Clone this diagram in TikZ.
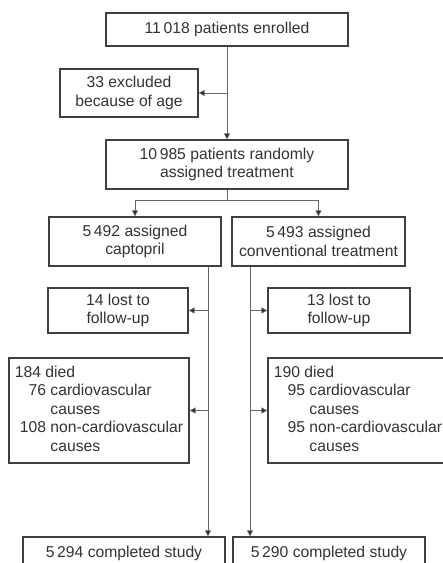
\documentclass[tikz,border=0pt]{standalone}
\usepackage{fontspec}
\setmainfont{Liberation Sans}
\usepackage{xcolor}
\usepackage{tikz}
\usetikzlibrary{positioning,arrows.meta,calc}

\begin{document}
\begin{tikzpicture}[x=1pt, y=-1pt,
    stagebox/.style={rectangle, draw=black!75, line width=1.2pt, fill=white,
                     align=center, inner sep=0pt, text=black!80,
                     font=\fontsize{15.7}{18.5}\selectfont},
    flow/.style={-{Triangle[length=6pt, width=6pt, fill=black!85]}, line width=0.8pt, draw=black!60},
    trunk/.style={line width=0.8pt, draw=black!60}
]
\useasboundingbox (0,0) rectangle (443,563);
\clip (0,0) rectangle (443,563);

% --- enrolment and randomisation ---
\node[stagebox, minimum width=242pt, minimum height=33pt] (enrol) at (227,29.5)
    {11\,018 patients enrolled};
\node[stagebox, minimum width=138pt, minimum height=48pt] (excl) at (129,93)
    {33 excluded\\because of age};
\node[stagebox, minimum width=242pt, minimum height=49pt] (rand) at (227,164.5)
    {10\,985 patients randomly\\assigned treatment};

% --- the two arms ---
\node[stagebox, minimum width=172pt, minimum height=49pt] (capt) at (135,241.5)
    {5\,492 assigned\\captopril};
\node[stagebox, minimum width=173pt, minimum height=49pt] (conv) at (318.5,241.5)
    {5\,493 assigned\\conventional treatment};

% --- losses per arm ---
\node[stagebox, minimum width=140pt, minimum height=45pt] (lostL) at (118,310.5)
    {14 lost to\\follow-up};
\node[stagebox, minimum width=142pt, minimum height=45pt] (lostR) at (339,310.5)
    {13 lost to\\follow-up};
\node[stagebox, minimum width=180pt, minimum height=105pt] (diedL) at (99,410.5)
    {\begin{tabular}{@{\hspace{5pt}}r@{ }l@{}}
     \multicolumn{2}{@{}l@{}}{184 died}\\
     76 & cardiovascular\\
        & causes\\
     108 & non-cardiovascular\\
        & causes
     \end{tabular}};
\node[stagebox, minimum width=180pt, minimum height=105pt] (diedR) at (358,410.5)
    {\begin{tabular}{@{\hspace{5pt}}r@{ }l@{}}
     \multicolumn{2}{@{}l@{}}{190 died}\\
     \phantom{1}95 & cardiovascular\\
        & causes\\
     95 & non-cardiovascular\\
        & causes
     \end{tabular}};

% --- completed ---
\node[stagebox, minimum width=202pt, minimum height=32pt] (doneL) at (124,553)
    {5\,294 completed study};
\node[stagebox, minimum width=192pt, minimum height=32pt] (doneR) at (329,553)
    {5\,290 completed study};

% --- junction points ---
\coordinate (jexcl) at (enrol.south |- excl.east);
\coordinate (jsplit) at (227,200);
\coordinate (topL) at (208,0 |- capt.south);
\coordinate (topR) at (250,0 |- conv.south);

% --- connectors ---
\draw[flow] (enrol.south) -- (rand.north);
\draw[flow] (jexcl) -- (excl.east);
\draw[trunk] (rand.south) -- (jsplit);
\draw[flow] (jsplit) -| (capt.north);
\draw[flow] (jsplit) -| (conv.north);

\draw[flow] (topL) -- (topL |- doneL.north);
\draw[flow] (topL |- lostL.east) -- (lostL.east);
\draw[flow] (topL |- diedL.east) -- (diedL.east);

\draw[flow] (topR) -- (topR |- doneR.north);
\draw[flow] (topR |- lostR.west) -- (lostR.west);
\draw[flow] (topR |- diedR.west) -- (diedR.west);

\end{tikzpicture}
\end{document}
